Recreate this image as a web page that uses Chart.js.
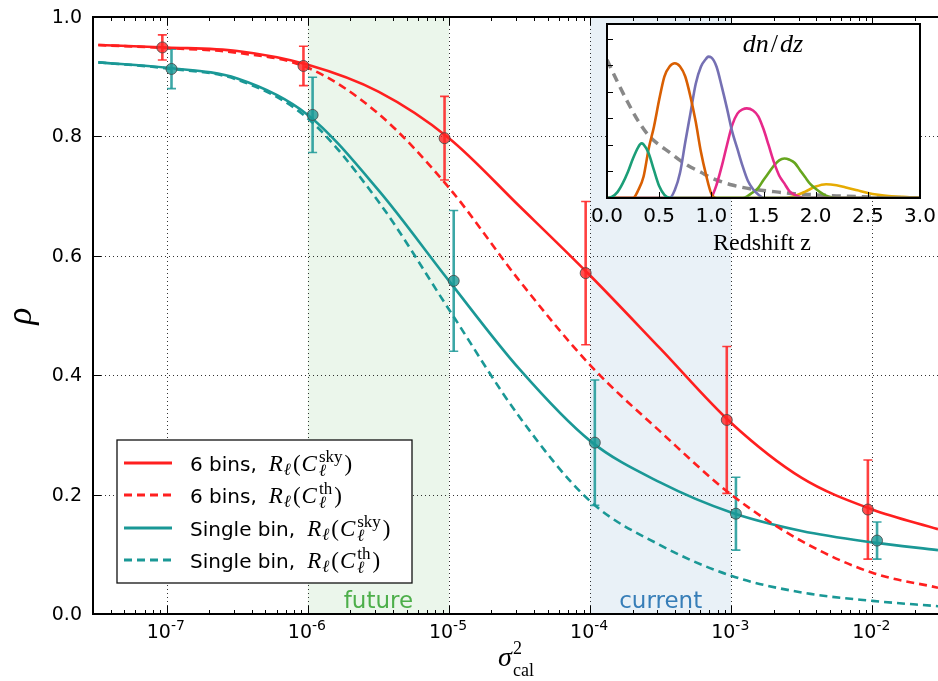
<!DOCTYPE html>
<html>
<head>
<meta charset="utf-8">
<title>rho vs sigma_cal</title>
<script src="https://cdn.jsdelivr.net/npm/chart.js@4.4.1/dist/chart.umd.min.js"></script>
<style>
  body { margin: 0; background: #fff; }
  #wrap { position: relative; width: 938px; height: 681px; }
  canvas { position: absolute; top: 0; }
  #mainChart { left: 0; }
  #insetChart { left: 580px; }
</style>
</head>
<body>
<div id="wrap">
  <canvas id="mainChart" width="938" height="681"></canvas>
  <canvas id="insetChart" width="358" height="262"></canvas>
</div>
<script>
// ---- main panel data ----
const sigmaGrid = [3.27e-8, 1e-7, 3.16e-7, 1e-6, 3.16e-6, 1e-5, 3.16e-5, 1e-4, 3.16e-4, 1e-3, 3.16e-3, 1e-2, 2.92e-2];
const sixBinsSky = [0.953, 0.949, 0.943, 0.920, 0.875, 0.797, 0.683, 0.567, 0.444, 0.320, 0.228, 0.175, 0.142];
const sixBinsTh = [0.953, 0.948, 0.940, 0.915, 0.838, 0.714, 0.558, 0.417, 0.305, 0.200, 0.122, 0.069, 0.044];
const singleSky = [0.924, 0.915, 0.897, 0.836, 0.710, 0.558, 0.410, 0.290, 0.220, 0.170, 0.139, 0.120, 0.107];
const singleTh = [0.924, 0.914, 0.895, 0.830, 0.691, 0.510, 0.330, 0.189, 0.115, 0.064, 0.036, 0.022, 0.013];

const sixBinsX = [9.3e-8, 9.3e-7, 9.3e-6, 9.3e-5, 9.3e-4, 9.3e-3];
const sixBinsPts = [0.949, 0.918, 0.797, 0.571, 0.325, 0.175];
const sixBinsErr = [0.021, 0.033, 0.070, 0.120, 0.123, 0.083];
const singleX = [1.08e-7, 1.08e-6, 1.08e-5, 1.08e-4, 1.08e-3, 1.08e-2];
const singlePts = [0.913, 0.836, 0.558, 0.287, 0.168, 0.123];
const singleErr = [0.033, 0.063, 0.118, 0.105, 0.061, 0.031];

const decadeExps = [-7, -6, -5, -4, -3, -2];
const yTicks = [0, 0.2, 0.4, 0.6, 0.8, 1.0];
const futureBand = [1e-6, 1e-5];
const currentBand = [1e-4, 1e-3];
const legendNames = ['6 bins', '6 bins', 'Single bin', 'Single bin'];
const legendSups = ['sky', 'th', 'sky', 'th'];

// ---- inset data: dn/dz per bin ----
const bin1Z = [0, 0.05, 0.1, 0.15, 0.2, 0.25, 0.3, 0.33, 0.35, 0.4, 0.45, 0.5, 0.55, 0.6, 0.65, 3.0];
const bin1N = [0, 0.05, 0.22, 0.55, 0.98, 1.5, 1.92, 2.06, 2.02, 1.68, 1.05, 0.45, 0.12, 0.01, 0, 0];
const bin2Z = [0, 0.25, 0.3, 0.35, 0.4, 0.45, 0.5, 0.55, 0.6, 0.65, 0.7, 0.75, 0.8, 0.85, 0.9, 0.95, 1.0, 1.05, 3.0];
const bin2N = [0, 0, 0.3, 0.8, 1.87, 2.69, 3.7, 4.58, 4.96, 5.08, 4.96, 4.58, 3.82, 2.88, 1.74, 0.86, 0.16, 0, 0];
const bin3Z = [0, 0.6, 0.65, 0.7, 0.75, 0.8, 0.85, 0.9, 0.95, 0.97, 1.0, 1.05, 1.1, 1.15, 1.2, 1.25, 1.3, 1.35, 1.4, 1.45, 1.5, 3.0];
const bin3N = [0, 0, 0.3, 0.95, 2.1, 3.2, 4.3, 4.95, 5.25, 5.33, 5.3, 4.95, 4.2, 3.38, 2.5, 1.85, 1.2, 0.65, 0.33, 0.13, 0, 0];
const bin4Z = [0, 0.98, 1.0, 1.05, 1.1, 1.15, 1.2, 1.25, 1.3, 1.34, 1.4, 1.45, 1.5, 1.55, 1.6, 1.65, 1.7, 1.75, 1.8, 1.85, 1.9, 3.0];
const bin4N = [0, 0, 0.03, 0.5, 1.2, 2.0, 2.75, 3.18, 3.34, 3.38, 3.3, 3.08, 2.6, 1.98, 1.35, 0.85, 0.55, 0.25, 0.12, 0.04, 0, 0];
const bin5Z = [0, 1.3, 1.35, 1.4, 1.45, 1.5, 1.55, 1.6, 1.65, 1.7, 1.75, 1.8, 1.85, 1.9, 1.95, 2.0, 2.05, 2.1, 2.15, 2.2, 3.0];
const bin5N = [0, 0, 0.08, 0.22, 0.38, 0.68, 0.95, 1.22, 1.42, 1.49, 1.44, 1.32, 1.05, 0.78, 0.52, 0.35, 0.2, 0.09, 0.03, 0, 0];
const bin6Z = [0, 1.7, 1.8, 1.9, 2.0, 2.1, 2.2, 2.3, 2.4, 2.5, 2.6, 2.7, 2.8, 2.9, 3.0];
const bin6N = [0, 0, 0.08, 0.24, 0.43, 0.52, 0.48, 0.39, 0.29, 0.19, 0.12, 0.07, 0.05, 0.03, 0.02];
const totalZ = [0, 0.1, 0.2, 0.3, 0.4, 0.5, 0.6, 0.7, 0.8, 0.9, 1.0, 1.2, 1.4, 1.6, 1.8, 2.0, 2.2, 2.4, 2.6, 2.8, 3.0];
const totalN = [5.21, 4.38, 3.6, 2.9, 2.35, 2.0, 1.72, 1.42, 1.17, 0.97, 0.76, 0.49, 0.33, 0.24, 0.16, 0.12, 0.08, 0.05, 0.03, 0.015, 0.01];
const insetXTicks = [0, 0.5, 1.0, 1.5, 2.0, 2.5, 3.0];
const insetYTicks = [1, 2, 3, 4, 5, 6];
const binColors = ['#1b9e77', '#d95f02', '#7570b3', '#e7298a', '#66a61e', '#e6ab02'];

const SANS = '"DejaVu Sans", sans-serif';
const SERIF = '"Liberation Serif", "DejaVu Serif", serif';
const RED = '#ff1f1f';
const TEAL = '#1a9896';

function pairs(xs, ys) {
    return xs.map((x, i) => ({ x: x, y: ys[i] }));
}

// lay out text pieces (for sub/superscripts); "over" = stacked on previous piece, "gap" = extra space before
function drawRich(ctx, parts, x, y, align) {
    let pos = 0, prevStart = 0, prevW = 0;
    const items = [];
    for (const p of parts) {
        ctx.font = p.f;
        const w = ctx.measureText(p.t).width;
        if (p.over) {
            items.push([p, prevStart]);
            prevW = Math.max(prevW, w);
            pos = prevStart + prevW;
        } else {
            pos += p.gap || 0;
            items.push([p, pos]);
            prevStart = pos;
            prevW = w;
            pos += w;
        }
    }
    const x0 = align === 'center' ? x - pos / 2 : x;
    ctx.textAlign = 'left';
    ctx.textBaseline = 'alphabetic';
    for (const [p, dx] of items) {
        ctx.font = p.f;
        ctx.fillText(p.t, x0 + dx, y + (p.dy || 0));
    }
}

function legendParts(name, sup) {
    return [
        { t: name + ',', f: '20px ' + SANS },
        { t: 'R', f: 'italic 23px ' + SERIF, gap: 12 },
        { t: 'ℓ', f: 'italic 17px ' + SERIF, dy: 4, gap: 1 },
        { t: '(', f: '23px ' + SERIF, gap: 2 },
        { t: 'C', f: 'italic 23px ' + SERIF, gap: 1 },
        { t: 'ℓ', f: 'italic 17px ' + SERIF, dy: 5, gap: 2 },
        { t: sup, f: '17px ' + SERIF, dy: -9, over: true },
        { t: ')', f: '23px ' + SERIF, gap: 2 }
    ];
}

function drawErrorBars(ctx, scales, xs, ys, errs, color) {
    ctx.strokeStyle = color;
    xs.forEach((v, i) => {
        const px = scales.x.getPixelForValue(v);
        const top = scales.y.getPixelForValue(ys[i] + errs[i]);
        const bot = scales.y.getPixelForValue(ys[i] - errs[i]);
        ctx.lineWidth = 2.6;
        ctx.beginPath();
        ctx.moveTo(px, top);
        ctx.lineTo(px, bot);
        ctx.stroke();
        ctx.lineWidth = 1.6;
        ctx.beginPath();
        ctx.moveTo(px - 4.5, top);
        ctx.lineTo(px + 4.5, top);
        ctx.moveTo(px - 4.5, bot);
        ctx.lineTo(px + 4.5, bot);
        ctx.stroke();
    });
}

const mainDecor = {
    id: 'mainDecor',
    beforeDraw(chart) {
        const { ctx, chartArea: a, scales: { x } } = chart;
        ctx.save();
        ctx.fillStyle = '#fff';
        ctx.fillRect(0, 0, chart.width, chart.height);
        let x0 = x.getPixelForValue(futureBand[0]), x1 = x.getPixelForValue(futureBand[1]);
        ctx.fillStyle = 'rgba(77,175,74,0.11)';
        ctx.fillRect(x0, a.top, x1 - x0, a.bottom - a.top);
        x0 = x.getPixelForValue(currentBand[0]);
        x1 = x.getPixelForValue(currentBand[1]);
        ctx.fillStyle = 'rgba(55,126,184,0.11)';
        ctx.fillRect(x0, a.top, x1 - x0, a.bottom - a.top);
        ctx.restore();
    },
    beforeDatasetsDraw(chart) {
        const { ctx, chartArea: a, scales } = chart;
        ctx.save();
        ctx.strokeStyle = 'rgba(0,0,0,0.8)';
        ctx.lineWidth = 1;
        ctx.setLineDash([1, 3]);
        decadeExps.forEach(e => {
            const px = Math.round(scales.x.getPixelForValue(Math.pow(10, e))) + 0.5;
            ctx.beginPath();
            ctx.moveTo(px, a.top);
            ctx.lineTo(px, a.bottom);
            ctx.stroke();
        });
        yTicks.slice(1, -1).forEach(v => {
            const py = Math.round(scales.y.getPixelForValue(v)) + 0.5;
            ctx.beginPath();
            ctx.moveTo(a.left, py);
            ctx.lineTo(a.right, py);
            ctx.stroke();
        });
        ctx.setLineDash([]);
        drawErrorBars(ctx, scales, sixBinsX, sixBinsPts, sixBinsErr, 'rgba(255,31,31,0.85)');
        drawErrorBars(ctx, scales, singleX, singlePts, singleErr, 'rgba(26,152,150,0.85)');
        ctx.restore();
    },
    afterDatasetsDraw(chart) {
        const { ctx, chartArea: a, scales } = chart;
        const x = scales.x, y = scales.y;
        ctx.save();
        // ticks, pointing inwards
        ctx.strokeStyle = '#000';
        ctx.lineWidth = 1;
        for (let e = -8; e <= -2; e++) {
            for (let k = 1; k <= 9; k++) {
                const v = k * Math.pow(10, e);
                if (v < x.min || v > x.max) continue;
                const px = Math.round(x.getPixelForValue(v)) + 0.5;
                const len = k === 1 ? 8 : 4;
                ctx.beginPath();
                ctx.moveTo(px, a.bottom);
                ctx.lineTo(px, a.bottom - len);
                ctx.moveTo(px, a.top);
                ctx.lineTo(px, a.top + len);
                ctx.stroke();
            }
        }
        yTicks.forEach(v => {
            const py = Math.round(y.getPixelForValue(v)) + 0.5;
            ctx.beginPath();
            ctx.moveTo(a.left, py);
            ctx.lineTo(a.left + 8, py);
            ctx.stroke();
        });
        // frame
        ctx.lineWidth = 2;
        ctx.beginPath();
        ctx.moveTo(a.right, a.top);
        ctx.lineTo(a.left, a.top);
        ctx.lineTo(a.left, a.bottom);
        ctx.lineTo(a.right, a.bottom);
        ctx.stroke();
        // tick labels
        ctx.fillStyle = '#000';
        ctx.font = '19px ' + SANS;
        ctx.textAlign = 'right';
        ctx.textBaseline = 'middle';
        yTicks.forEach(v => ctx.fillText(v.toFixed(1), 82, y.getPixelForValue(v) + 1));
        decadeExps.forEach(e => {
            drawRich(ctx, [
                { t: '10', f: '19px ' + SANS },
                { t: '-' + (-e), f: '14px ' + SANS, dy: -8 }
            ], x.getPixelForValue(Math.pow(10, e)) - 1, 638, 'center');
        });
        // axis titles
        ctx.save();
        ctx.translate(31, 316);
        ctx.rotate(-Math.PI / 2);
        ctx.font = 'italic 35px ' + SERIF;
        ctx.textAlign = 'center';
        ctx.textBaseline = 'alphabetic';
        ctx.fillText('ρ', 0, 0);
        ctx.restore();
        drawRich(ctx, [
            { t: 'σ', f: 'italic 28px ' + SERIF },
            { t: '2', f: '18px ' + SERIF, dy: -12, gap: 1 },
            { t: 'cal', f: '18px ' + SERIF, dy: 10, over: true }
        ], 516, 666, 'center');
        // band labels
        ctx.font = '23px ' + SANS;
        ctx.textAlign = 'center';
        ctx.textBaseline = 'alphabetic';
        ctx.fillStyle = '#4daf4a';
        ctx.fillText('future', (x.getPixelForValue(futureBand[0]) + x.getPixelForValue(futureBand[1])) / 2, 608);
        ctx.fillStyle = '#377eb8';
        ctx.fillText('current', (x.getPixelForValue(currentBand[0]) + x.getPixelForValue(currentBand[1])) / 2, 608);
        // legend
        ctx.fillStyle = '#fff';
        ctx.fillRect(117, 440, 295, 143);
        ctx.strokeStyle = '#111';
        ctx.lineWidth = 1.3;
        ctx.strokeRect(117, 440, 295, 143);
        const rowY = [463, 495, 528, 560];
        const styles = [[RED, []], [RED, [8, 5]], [TEAL, []], [TEAL, [8, 5]]];
        rowY.forEach((ry, i) => {
            ctx.strokeStyle = styles[i][0];
            ctx.setLineDash(styles[i][1]);
            ctx.lineWidth = 2.8;
            ctx.beginPath();
            ctx.moveTo(124, ry);
            ctx.lineTo(172, ry);
            ctx.stroke();
            ctx.setLineDash([]);
            ctx.fillStyle = '#000';
            drawRich(ctx, legendParts(legendNames[i], legendSups[i]), 190, ry + 8, 'left');
        });
        ctx.restore();
    }
};

new Chart(document.getElementById('mainChart'), {
    type: 'scatter',
    data: {
        datasets: [
            { label: '6 bins data', data: pairs(sixBinsX, sixBinsPts), showLine: false, pointRadius: 5.5,
              pointBackgroundColor: 'rgba(255,35,35,0.8)', pointBorderColor: 'rgba(70,70,70,0.8)', pointBorderWidth: 1 },
            { label: 'Single bin data', data: pairs(singleX, singlePts), showLine: false, pointRadius: 5.5,
              pointBackgroundColor: 'rgba(26,152,150,0.8)', pointBorderColor: 'rgba(70,70,70,0.8)', pointBorderWidth: 1 },
            { label: '6 bins sky', data: pairs(sigmaGrid, sixBinsSky), showLine: true, borderColor: RED, borderWidth: 2.6,
              pointRadius: 0, cubicInterpolationMode: 'monotone' },
            { label: '6 bins th', data: pairs(sigmaGrid, sixBinsTh), showLine: true, borderColor: RED, borderWidth: 2.6,
              borderDash: [8, 5], pointRadius: 0, cubicInterpolationMode: 'monotone' },
            { label: 'Single bin sky', data: pairs(sigmaGrid, singleSky), showLine: true, borderColor: TEAL, borderWidth: 2.6,
              pointRadius: 0, cubicInterpolationMode: 'monotone' },
            { label: 'Single bin th', data: pairs(sigmaGrid, singleTh), showLine: true, borderColor: TEAL, borderWidth: 2.6,
              borderDash: [8, 5], pointRadius: 0, cubicInterpolationMode: 'monotone' }
        ]
    },
    options: {
        responsive: false,
        animation: false,
        devicePixelRatio: 1,
        events: [],
        layout: { autoPadding: false, padding: { left: 93, top: 17, right: 0, bottom: 67 } },
        plugins: { legend: { display: false }, tooltip: { enabled: false } },
        scales: {
            x: { type: 'logarithmic', min: 3.27e-8, max: 2.92e-2, display: false },
            y: { type: 'linear', min: 0, max: 1, display: false }
        }
    },
    plugins: [mainDecor]
});

// ---- inset ----
const insetDecor = {
    id: 'insetDecor',
    beforeDraw(chart) {
        const { ctx, chartArea: a } = chart;
        ctx.save();
        ctx.fillStyle = '#fff';
        ctx.fillRect(a.left, a.top, a.right - a.left, a.bottom - a.top);
        ctx.restore();
    },
    afterDatasetsDraw(chart) {
        const { ctx, chartArea: a, scales: { x, y } } = chart;
        ctx.save();
        ctx.strokeStyle = '#000';
        ctx.lineWidth = 1;
        insetYTicks.forEach(v => {
            const py = Math.round(y.getPixelForValue(v)) + 0.5;
            ctx.beginPath();
            ctx.moveTo(a.left, py);
            ctx.lineTo(a.left + 6, py);
            ctx.stroke();
        });
        insetXTicks.forEach(v => {
            const px = Math.round(x.getPixelForValue(v)) + 0.5;
            ctx.beginPath();
            ctx.moveTo(px, a.bottom);
            ctx.lineTo(px, a.bottom - 6);
            ctx.stroke();
        });
        ctx.lineWidth = 2;
        ctx.strokeRect(a.left, a.top, a.right - a.left, a.bottom - a.top);
        ctx.fillStyle = '#000';
        ctx.font = '20px ' + SANS;
        ctx.textAlign = 'center';
        ctx.textBaseline = 'alphabetic';
        insetXTicks.forEach(v => ctx.fillText(v.toFixed(1), x.getPixelForValue(v), 222));
        ctx.font = '24px ' + SERIF;
        ctx.fillText('Redshift z', 182, 250);
        drawRich(ctx, [
            { t: 'dn', f: 'italic 26px ' + SERIF },
            { t: '/', f: '26px ' + SERIF, gap: 2 },
            { t: 'dz', f: 'italic 26px ' + SERIF, gap: 2 }
        ], 193, 52, 'center');
        ctx.restore();
    }
};

const binSets = [[bin1Z, bin1N], [bin2Z, bin2N], [bin3Z, bin3N], [bin4Z, bin4N], [bin5Z, bin5N], [bin6Z, bin6N]];
const insetSets = binSets.map((b, i) => ({
    data: pairs(b[0], b[1]), showLine: true, borderColor: binColors[i], borderWidth: 2.6,
    pointRadius: 0, cubicInterpolationMode: 'monotone'
}));
insetSets.push({
    data: pairs(totalZ, totalN), showLine: true, borderColor: '#888', borderWidth: 3.5,
    borderDash: [9, 6], pointRadius: 0, cubicInterpolationMode: 'monotone'
});

new Chart(document.getElementById('insetChart'), {
    type: 'scatter',
    data: { datasets: insetSets },
    options: {
        responsive: false,
        animation: false,
        devicePixelRatio: 1,
        events: [],
        layout: { autoPadding: false, padding: { left: 27, top: 24, right: 18, bottom: 64 } },
        plugins: { legend: { display: false }, tooltip: { enabled: false } },
        scales: {
            x: { type: 'linear', min: 0, max: 3, display: false },
            y: { type: 'linear', min: 0, max: 6.56, display: false }
        }
    },
    plugins: [insetDecor]
});
</script>
</body>
</html>
